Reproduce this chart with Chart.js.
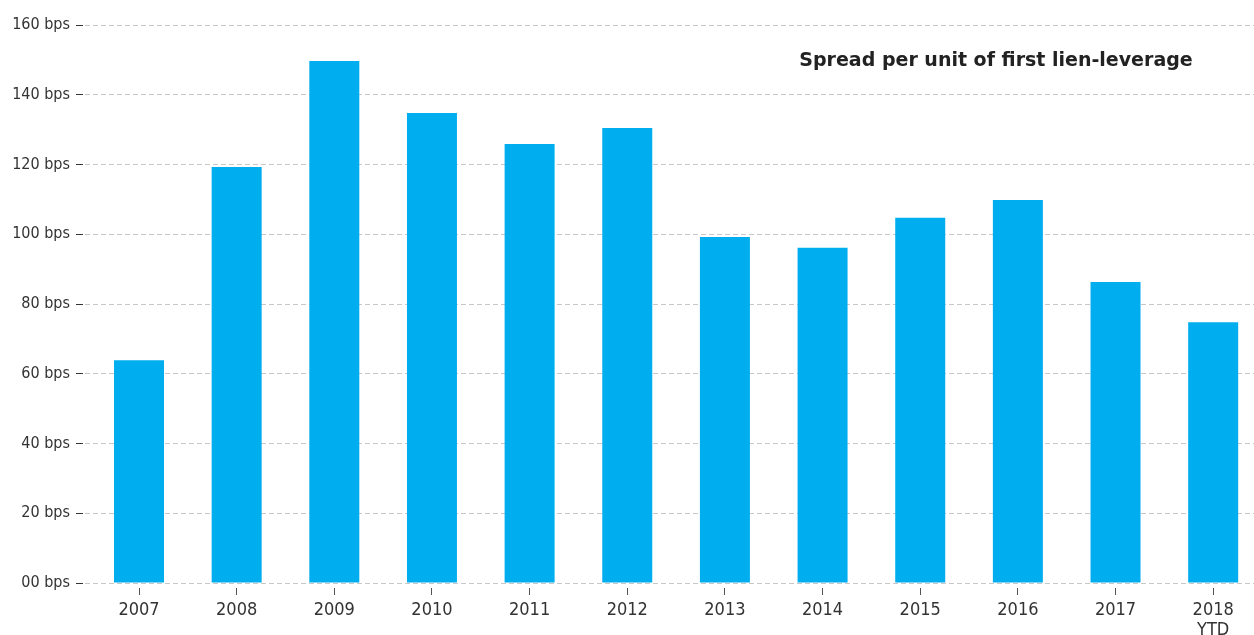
<!DOCTYPE html>
<html>
<head>
<meta charset="utf-8">
<script src="https://cdn.jsdelivr.net/npm/chart.js@4/dist/chart.umd.min.js"></script>
<style>
  html, body { margin: 0; padding: 0; background: #ffffff; overflow: hidden; }
  #wrap { position: relative; width: 1254px; height: 635px; }
</style>
</head>
<body>
<div id="wrap"><canvas id="c"></canvas></div>
<script>
// ---- Data ----
const categories = ['2007', '2008', '2009', '2010', '2011', '2012', '2013', '2014', '2015', '2016', '2017', '2018 YTD'];
const xTickLabels = ['2007', '2008', '2009', '2010', '2011', '2012', '2013', '2014', '2015', '2016', '2017', ['2018', 'YTD']];
const spreadBps = [63.9, 119.3, 149.7, 134.8, 125.9, 130.5, 99.2, 96.1, 104.7, 109.8, 86.3, 74.8];
const yTickValues = [0, 20, 40, 60, 80, 100, 120, 140, 160];
const yTickLabels = ['00 bps', '20 bps', '40 bps', '60 bps', '80 bps', '100 bps', '120 bps', '140 bps', '160 bps'];
const chartTitle = 'Spread per unit of first lien-leverage';

const points = categories.map((c, i) => ({ x: i, y: spreadBps[i] }));

const titlePlugin = {
  id: 'innerTitle',
  afterDraw(chart) {
    const ctx = chart.ctx;
    ctx.save();
    ctx.font = 'bold 19px "DejaVu Sans", Verdana, sans-serif';
    ctx.fillStyle = '#222222';
    ctx.textAlign = 'center';
    ctx.textBaseline = 'middle';
    ctx.fillText(chartTitle, 996, 61);
    ctx.restore();
  }
};

new Chart(document.getElementById('c'), {
  type: 'bar',
  data: {
    datasets: [{
      label: 'Spread per unit of first lien-leverage',
      data: points,
      backgroundColor: '#00AEEF',
      borderWidth: 0,
      barPercentage: 0.512,
      categoryPercentage: 1.0
    }]
  },
  options: {
    responsive: true,
    maintainAspectRatio: false,
    animation: false,
    layout: { padding: { top: 25, right: 0, bottom: 0, left: 0 } },
    plugins: {
      legend: { display: false },
      tooltip: { enabled: false },
      title: { display: false }
    },
    scales: {
      x: {
        type: 'linear',
        min: -0.553,
        max: 11.418,
        offset: false,
        grid: {
          offset: false,
          drawOnChartArea: false,
          drawTicks: true,
          tickLength: 12,
          tickColor: '#555555',
          tickWidth: 1,
          tickBorderDash: [0, 5, 7, 20]
        },
        border: { display: false },
        afterBuildTicks(scale) {
          scale.ticks = categories.map((c, i) => ({ value: i }));
        },
        afterFit(scale) { scale.height = 52; },
        ticks: {
          autoSkip: false,
          maxRotation: 0,
          padding: 5,
          color: '#333333',
          font: { family: '"DejaVu Sans Condensed", "Open Sans", sans-serif', size: 18, lineHeight: 1.12 },
          callback: (value, index) => xTickLabels[index]
        }
      },
      y: {
        min: 0,
        max: 160,
        afterBuildTicks(scale) {
          scale.ticks = yTickValues.map(v => ({ value: v }));
        },
        afterFit(scale) { scale.width = 85; },
        grid: {
          color: '#c8c8c8',
          lineWidth: 1,
          drawTicks: true,
          tickLength: 9,
          tickColor: '#333333',
          tickWidth: 1,
          tickBorderDash: [7, 10]
        },
        border: { display: false, dash: [5, 3] },
        ticks: {
          padding: 6,
          color: '#333333',
          font: { family: '"DejaVu Sans Condensed", "Open Sans", sans-serif', size: 16 },
          callback: (value, index) => yTickLabels[index]
        }
      }
    }
  },
  plugins: [titlePlugin]
});
</script>
</body>
</html>
